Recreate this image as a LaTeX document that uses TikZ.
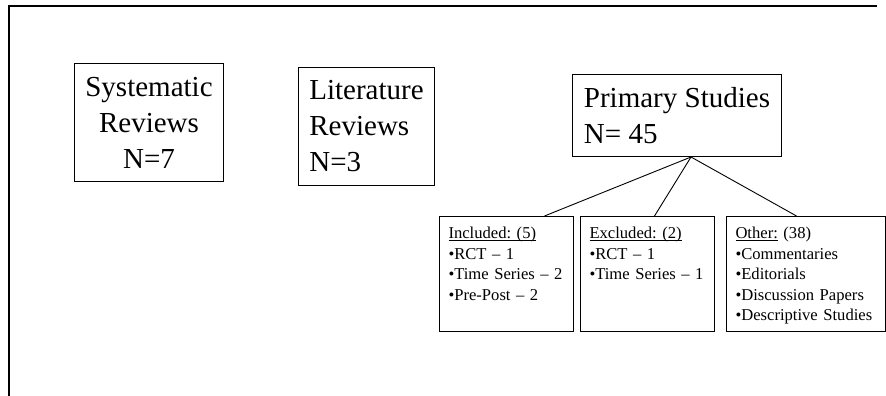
\documentclass[tikz,border=0pt]{standalone}
\usepackage{fontspec}
\setmainfont{Liberation Serif}
\usetikzlibrary{positioning}

\tikzset{
  bigbox/.style={draw, line width=1pt, inner sep=0pt, anchor=north west,
    font=\fontsize{29}{36}\selectfont},
  listbox/.style={draw, line width=1pt, anchor=north west, align=left,
    inner xsep=9pt, inner ysep=10pt, text height=12pt, text depth=83pt,
    font=\fontsize{16.6}{20.5}\selectfont},
  link/.style={line width=0.9pt},
  frame/.style={line width=2.2pt}
}
\newcommand\headline[1]{\underline{\smash{#1}}}
\frenchspacing

\begin{document}
\begin{tikzpicture}[x=1pt, y=-1pt]
\useasboundingbox (0,0) rectangle (886,396);
\draw[frame] (9,396) |- (877,6); % page border, cut off

% the three groups of papers
\node[bigbox, align=center, minimum width=149pt, minimum height=118pt]
  (sys) at (74,63) {Systematic\\Reviews\\N=7};
\node[bigbox, align=left, minimum width=136pt, minimum height=118pt]
  (lit) at (298,67) {Literature\\Reviews\\N=3};
\node[bigbox, align=left, minimum width=209pt, minimum height=82pt]
  (prim) at (572,74) {Primary Studies\\N= 45};

% breakdown of the primary studies
\node[listbox, text width=116pt] (inc) at (439,216)
  {\headline{Included: (5)}\\•RCT -- 1\\•Time Series -- 2\\•Pre-Post -- 2};
\node[listbox, text width=116pt, right=6pt of inc] (exc)
  {\headline{Excluded: (2)}\\•RCT -- 1\\•Time Series -- 1};
\node[listbox, text width=141pt, right=11pt of exc] (oth)
  {\headline{Other:} (38)\\•Commentaries\\•Editorials\\•Discussion Papers\\•Descriptive Studies};

\coordinate (apex) at ([xshift=14pt]prim.south);
\draw[link] (apex) -- ([xshift=38pt]inc.north);
\draw[link] (apex) -- ([xshift=7pt]exc.north);
\draw[link] (apex) -- ([xshift=-9.5pt]oth.north);
\end{tikzpicture}
\end{document}
